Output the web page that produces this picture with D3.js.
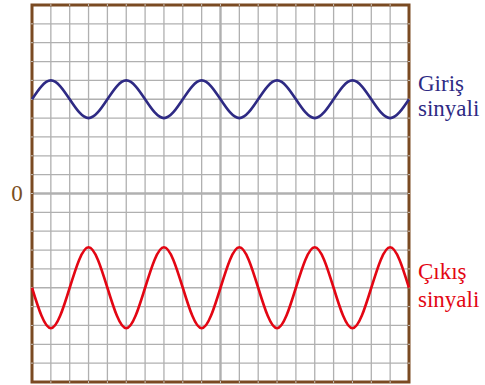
<!DOCTYPE html>
<html>
<head>
<meta charset="utf-8">
<script src="https://cdn.jsdelivr.net/npm/d3@7"></script>
<style>
  html, body { margin: 0; padding: 0; background: #ffffff; }
  svg { display: block; }
</style>
</head>
<body>
<svg id="chart" width="485" height="385"></svg>
<script>
// Time axis in grid divisions (one division = quarter period)
const timeDiv = [-10, -9, -8, -7, -6, -5, -4, -3, -2, -1, 0, 1, 2, 3, 4, 5, 6, 7, 8, 9, 10];
// Input signal (Giriş sinyali), in vertical divisions
const girisValues = [5, 6, 5, 4, 5, 6, 5, 4, 5, 6, 5, 4, 5, 6, 5, 4, 5, 6, 5, 4, 5];
// Output signal (Çıkış sinyali), in vertical divisions
const cikisValues = [-5, -7.15, -5, -2.85, -5, -7.15, -5, -2.85, -5, -7.15, -5, -2.85, -5, -7.15, -5, -2.85, -5, -7.15, -5, -2.85, -5];
// Grid divisions
const gridTicks = d3.range(-10, 11, 1);
const zeroLabel = ["0"];
const labelsGiris = ["Giriş", "sinyali"];
const labelsCikis = ["Çıkış", "sinyali"];

(function () {
const svg = d3.select("#chart");
const pL = 32, pR = 409, pT = 5, pB = 382;
const x = d3.scaleLinear().domain([-10, 10]).range([pL, pR]);
const y = d3.scaleLinear().domain([-10, 10]).range([pB, pT]);
const FONT = "Liberation Serif";

// grid
const grid = svg.append("g");
grid.selectAll("line.v").data(gridTicks).join("line")
  .attr("x1", d => x(d)).attr("x2", d => x(d))
  .attr("y1", pT).attr("y2", pB)
  .attr("stroke", "#b0b0b0")
  .attr("stroke-width", d => d === 0 ? 2.4 : 1.3);
grid.selectAll("line.h").data(gridTicks).join("line")
  .attr("y1", d => y(d)).attr("y2", d => y(d))
  .attr("x1", pL).attr("x2", pR)
  .attr("stroke", "#b0b0b0")
  .attr("stroke-width", d => d === 0 ? 2.4 : 1.3);

// border
svg.append("rect")
  .attr("x", pL).attr("y", pT)
  .attr("width", pR - pL).attr("height", pB - pT)
  .attr("fill", "none")
  .attr("stroke", "#7a4a22")
  .attr("stroke-width", 3);

// small ticks over border
const ticks = svg.append("g").attr("stroke", "#c8c0b8").attr("stroke-width", 1);
gridTicks.slice(1, -1).forEach(d => {
  ticks.append("line").attr("x1", pL - 1).attr("x2", pL + 1).attr("y1", y(d)).attr("y2", y(d));
  ticks.append("line").attr("x1", pR - 1).attr("x2", pR + 1).attr("y1", y(d)).attr("y2", y(d));
  ticks.append("line").attr("y1", pT - 1).attr("y2", pT + 1).attr("x1", x(d)).attr("x2", x(d));
  ticks.append("line").attr("y1", pB - 1).attr("y2", pB + 1).attr("x1", x(d)).attr("x2", x(d));
});

// waves
const line = d3.line().curve(d3.curveNatural)
  .x(d => x(d[0])).y(d => y(d[1]));

svg.append("path")
  .datum(timeDiv.map((t, i) => [t, girisValues[i]]))
  .attr("d", line)
  .attr("fill", "none")
  .attr("stroke", "#2e2a84")
  .attr("stroke-width", 2.6);

svg.append("path")
  .datum(timeDiv.map((t, i) => [t, cikisValues[i]]))
  .attr("d", line)
  .attr("fill", "none")
  .attr("stroke", "#e30613")
  .attr("stroke-width", 2.6);

// labels
svg.append("text").text(zeroLabel[0])
  .attr("x", 17).attr("y", 201)
  .attr("text-anchor", "middle")
  .attr("font-family", FONT)
  .attr("font-size", 23)
  .attr("fill", "#7a4e22");

svg.selectAll("text.giris").data(labelsGiris).join("text")
  .attr("class", "giris")
  .attr("x", 418).attr("y", (d, i) => 91 + i * 25)
  .attr("font-family", FONT)
  .attr("font-size", 23)
  .attr("fill", "#2e2a84")
  .text(d => d);

svg.selectAll("text.cikis").data(labelsCikis).join("text")
  .attr("class", "cikis")
  .attr("x", 418).attr("y", (d, i) => 279 + i * 28)
  .attr("font-family", FONT)
  .attr("font-size", 23)
  .attr("fill", "#e30613")
  .text(d => d);
})();
</script>
</body>
</html>
